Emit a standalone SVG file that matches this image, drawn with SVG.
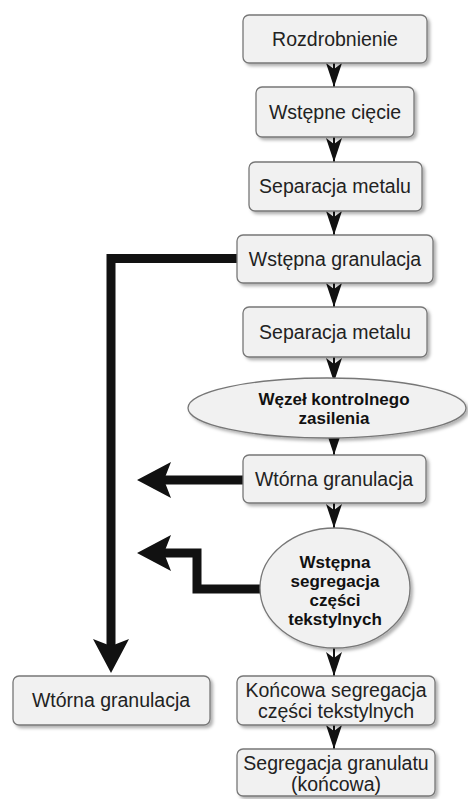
<svg xmlns="http://www.w3.org/2000/svg" width="468" height="799" viewBox="0 0 468 799">
<defs>
<style>
.box{fill:#f1f1f1;stroke:#777;stroke-width:1.3;filter:url(#sh)}
.t{font-family:"Liberation Sans",Arial,sans-serif;font-size:19.5px;fill:#222;text-anchor:middle}
.b{font-family:"Liberation Sans",Arial,sans-serif;font-size:17px;font-weight:bold;fill:#111;text-anchor:middle}
.sl{stroke:#111;stroke-width:2;fill:none;marker-end:url(#sm)}
.bl{stroke:#111;stroke-width:9;fill:none;stroke-linejoin:miter;marker-end:url(#big)}
</style>
<filter id="sh" x="-10%" y="-10%" width="130%" height="140%">
<feDropShadow dx="2.5" dy="2.5" stdDeviation="1.5" flood-color="#000" flood-opacity="0.3"/>
</filter>
<marker id="sm" markerUnits="userSpaceOnUse" viewBox="0 0 24 16" refX="24" refY="8" markerWidth="24" markerHeight="16" orient="auto">
<path d="M0,0 L24,8 L0,16 L6,8 Z" fill="#111"/>
</marker>
<marker id="big" markerUnits="userSpaceOnUse" viewBox="0 0 34 36" refX="14" refY="18" markerWidth="34" markerHeight="36" orient="auto">
<path d="M0,0 L34,18 L0,36 L7,18 Z" fill="#111"/>
</marker>
</defs>
<rect width="468" height="799" fill="#fff"/>
<g id="connectors">
<line class="sl" x1="334" y1="63" x2="334" y2="87"/>
<line class="sl" x1="334" y1="137" x2="334" y2="162"/>
<line class="sl" x1="334" y1="211" x2="334" y2="235"/>
<line class="sl" x1="334" y1="283" x2="334" y2="307"/>
<line class="sl" x1="334" y1="357" x2="334" y2="382"/>
<line class="sl" x1="334" y1="438" x2="334" y2="455"/>
<line class="sl" x1="334" y1="503" x2="334" y2="528"/>
<line class="sl" x1="334" y1="648" x2="334" y2="676"/>
<line class="sl" x1="334" y1="725" x2="334" y2="749"/>
<path class="bl" d="M237,258.5 H111 V653"/>
<path class="bl" d="M243,480 H157"/>
<path class="bl" d="M260,589 H197 V553 H157"/>
</g>
<g id="n1"><rect class="box" x="243" y="15" width="184" height="48" rx="6"/><text class="t" x="335" y="46">Rozdrobnienie</text></g>
<g id="n2"><rect class="box" x="256" y="87" width="158" height="50" rx="6"/><text class="t" x="335" y="119">Wstępne cięcie</text></g>
<g id="n3"><rect class="box" x="249" y="162" width="173" height="49" rx="6"/><text class="t" x="335" y="193">Separacja metalu</text></g>
<g id="n4"><rect class="box" x="237" y="235" width="196" height="48" rx="6"/><text class="t" x="335" y="266">Wstępna granulacja</text></g>
<g id="n5"><rect class="box" x="243" y="307" width="184" height="50" rx="6"/><text class="t" x="335" y="339">Separacja metalu</text></g>
<g id="n6"><ellipse class="box" cx="327" cy="408" rx="139" ry="30"/><text class="b" x="334" y="405">Węzeł kontrolnego</text><text class="b" x="334" y="424">zasilenia</text></g>
<g id="n7"><rect class="box" x="243" y="455" width="183" height="48" rx="6"/><text class="t" x="334" y="486">Wtórna granulacja</text></g>
<g id="n8"><ellipse class="box" cx="335" cy="588" rx="75" ry="60"/><text class="b" x="335" y="568">Wstępna</text><text class="b" x="335" y="587">segregacja</text><text class="b" x="335" y="606">części</text><text class="b" x="335" y="625">tekstylnych</text></g>
<g id="n9"><rect class="box" x="13" y="676" width="197" height="49" rx="6"/><text class="t" x="111" y="707">Wtórna granulacja</text></g>
<g id="n10"><rect class="box" x="237" y="676" width="198" height="49" rx="6"/><text class="t" x="336" y="697">Końcowa segregacja</text><text class="t" x="336" y="718">części tekstylnych</text></g>
<g id="n11"><rect class="box" x="237" y="749" width="198" height="47" rx="6"/><text class="t" x="336" y="770">Segregacja granulatu</text><text class="t" x="336" y="791">(końcowa)</text></g>
</svg>
